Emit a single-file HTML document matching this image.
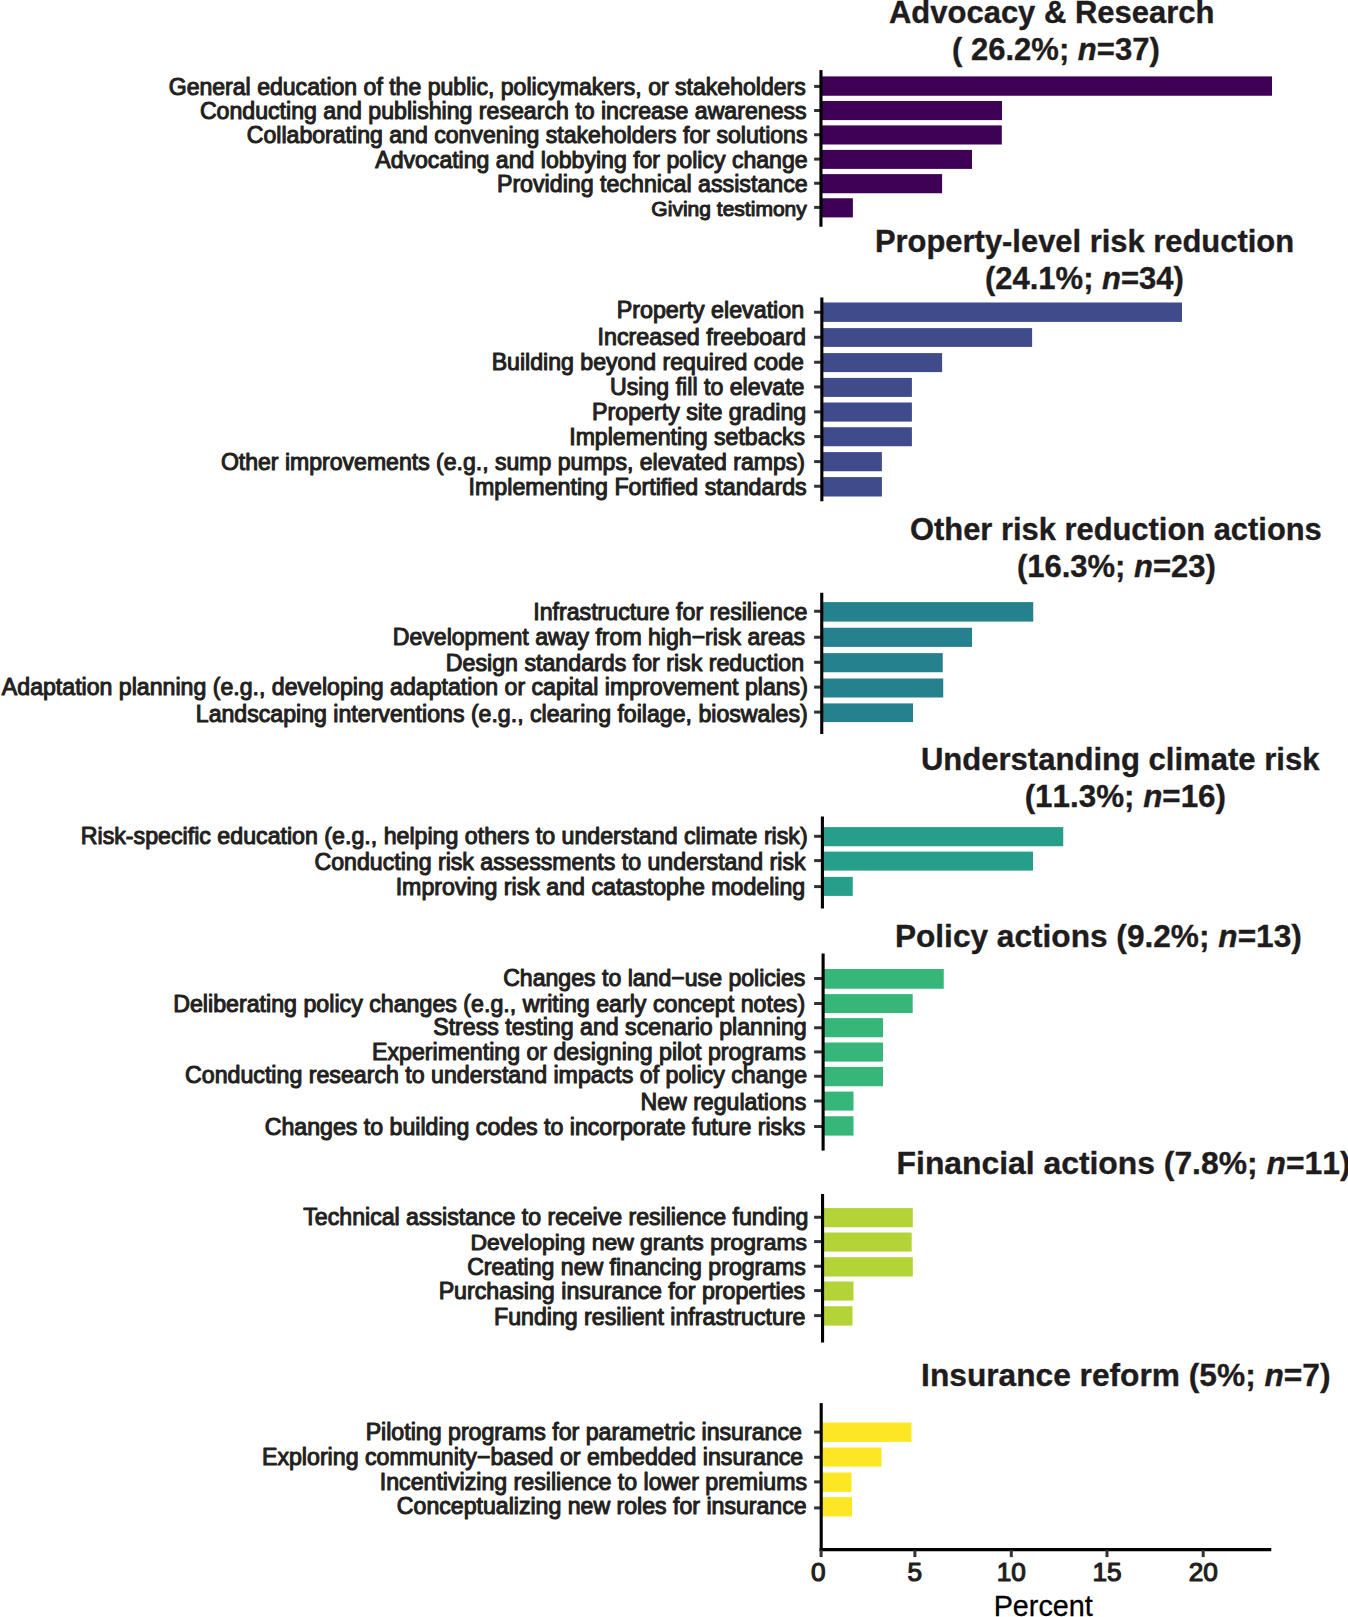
<!DOCTYPE html>
<html lang="en"><head><meta charset="utf-8"><title>Resilience actions by category</title>
<style>
html,body{margin:0;padding:0;background:#fff}
svg{display:block}
text{font-family:"Liberation Sans",Arial,Helvetica,sans-serif;fill:#231f20;white-space:pre}
.l{stroke:#231f20;stroke-width:1.05;stroke-linejoin:round}
.t{font-weight:bold;font-kerning:none;fill:#1f1c1d;stroke:#1f1c1d;stroke-width:0.35;stroke-linejoin:round}
.ax{stroke:#000;fill:none;stroke-width:3.1}
.tk{stroke:#333;fill:none;stroke-width:3}
</style></head><body>
<svg width="1348" height="1617" viewBox="0 0 1348 1617">
<rect width="1348" height="1617" fill="#fff"/>
<g fill="#3f0156">
<rect x="820.95" y="76.40" width="451.05" height="19.35"/>
<rect x="820.95" y="101.00" width="181.05" height="19.10"/>
<rect x="820.95" y="125.40" width="180.85" height="19.10"/>
<rect x="820.95" y="149.90" width="151.05" height="19.00"/>
<rect x="820.95" y="174.10" width="121.15" height="19.15"/>
<rect x="820.95" y="198.25" width="31.95" height="19.15"/>
</g>
<line class="tk" x1="814.1" x2="819.95" y1="86.40" y2="86.40"/>
<line class="tk" x1="814.1" x2="819.95" y1="110.50" y2="110.50"/>
<line class="tk" x1="814.1" x2="819.95" y1="134.75" y2="134.75"/>
<line class="tk" x1="814.1" x2="819.95" y1="159.10" y2="159.10"/>
<line class="tk" x1="814.1" x2="819.95" y1="183.25" y2="183.25"/>
<line class="tk" x1="814.1" x2="819.95" y1="207.40" y2="207.40"/>
<line class="ax" x1="820.95" x2="820.95" y1="70.10" y2="226.75"/>
<g fill="#3f4b8b">
<rect x="821.85" y="302.50" width="360.15" height="19.40"/>
<rect x="821.85" y="328.10" width="210.25" height="18.80"/>
<rect x="821.85" y="353.10" width="120.25" height="19.00"/>
<rect x="821.85" y="377.90" width="90.05" height="19.00"/>
<rect x="821.85" y="402.50" width="90.05" height="19.10"/>
<rect x="821.85" y="427.25" width="90.05" height="19.00"/>
<rect x="821.85" y="452.10" width="60.05" height="19.15"/>
<rect x="821.85" y="477.10" width="60.05" height="19.40"/>
</g>
<line class="tk" x1="814.1" x2="820.85" y1="312.25" y2="312.25"/>
<line class="tk" x1="814.1" x2="820.85" y1="337.25" y2="337.25"/>
<line class="tk" x1="814.1" x2="820.85" y1="362.25" y2="362.25"/>
<line class="tk" x1="814.1" x2="820.85" y1="386.90" y2="386.90"/>
<line class="tk" x1="814.1" x2="820.85" y1="411.90" y2="411.90"/>
<line class="tk" x1="814.1" x2="820.85" y1="436.60" y2="436.60"/>
<line class="tk" x1="814.1" x2="820.85" y1="461.60" y2="461.60"/>
<line class="tk" x1="814.1" x2="820.85" y1="486.25" y2="486.25"/>
<line class="ax" x1="821.85" x2="821.85" y1="297.50" y2="501.25"/>
<g fill="#26818f">
<rect x="821.75" y="602.10" width="211.50" height="19.50"/>
<rect x="821.75" y="627.75" width="150.25" height="19.15"/>
<rect x="821.75" y="653.10" width="121.00" height="19.15"/>
<rect x="821.75" y="678.50" width="121.50" height="19.00"/>
<rect x="821.75" y="703.40" width="91.25" height="18.70"/>
</g>
<line class="tk" x1="814.1" x2="820.75" y1="611.25" y2="611.25"/>
<line class="tk" x1="814.1" x2="820.75" y1="637.25" y2="637.25"/>
<line class="tk" x1="814.1" x2="820.75" y1="662.30" y2="662.30"/>
<line class="tk" x1="814.1" x2="820.75" y1="687.10" y2="687.10"/>
<line class="tk" x1="814.1" x2="820.75" y1="712.10" y2="712.10"/>
<line class="ax" x1="821.75" x2="821.75" y1="592.75" y2="734.00"/>
<g fill="#279e89">
<rect x="822.40" y="827.10" width="240.85" height="19.15"/>
<rect x="822.40" y="851.60" width="210.60" height="19.00"/>
<rect x="822.40" y="876.90" width="30.35" height="19.00"/>
</g>
<line class="tk" x1="814.1" x2="821.40" y1="836.30" y2="836.30"/>
<line class="tk" x1="814.1" x2="821.40" y1="860.60" y2="860.60"/>
<line class="tk" x1="814.1" x2="821.40" y1="886.60" y2="886.60"/>
<line class="ax" x1="822.40" x2="822.40" y1="816.50" y2="908.50"/>
<g fill="#36b779">
<rect x="823.10" y="969.00" width="120.65" height="19.75"/>
<rect x="823.10" y="994.10" width="89.60" height="19.00"/>
<rect x="823.10" y="1018.10" width="59.90" height="19.15"/>
<rect x="823.10" y="1042.50" width="59.90" height="19.10"/>
<rect x="823.10" y="1066.90" width="59.90" height="19.35"/>
<rect x="823.10" y="1091.60" width="30.40" height="19.00"/>
<rect x="823.10" y="1116.25" width="30.40" height="19.35"/>
</g>
<line class="tk" x1="814.1" x2="822.10" y1="978.50" y2="978.50"/>
<line class="tk" x1="814.1" x2="822.10" y1="1003.50" y2="1003.50"/>
<line class="tk" x1="814.1" x2="822.10" y1="1027.75" y2="1027.75"/>
<line class="tk" x1="814.1" x2="822.10" y1="1051.90" y2="1051.90"/>
<line class="tk" x1="814.1" x2="822.10" y1="1076.25" y2="1076.25"/>
<line class="tk" x1="814.1" x2="822.10" y1="1101.00" y2="1101.00"/>
<line class="tk" x1="814.1" x2="822.10" y1="1126.50" y2="1126.50"/>
<line class="ax" x1="823.10" x2="823.10" y1="953.50" y2="1150.60"/>
<g fill="#b3d337">
<rect x="822.55" y="1208.10" width="90.25" height="19.15"/>
<rect x="822.55" y="1232.50" width="89.15" height="19.10"/>
<rect x="822.55" y="1257.25" width="90.25" height="19.25"/>
<rect x="822.55" y="1281.50" width="30.95" height="19.10"/>
<rect x="822.55" y="1306.25" width="29.95" height="19.35"/>
</g>
<line class="tk" x1="814.1" x2="821.55" y1="1217.25" y2="1217.25"/>
<line class="tk" x1="814.1" x2="821.55" y1="1241.60" y2="1241.60"/>
<line class="tk" x1="814.1" x2="821.55" y1="1266.25" y2="1266.25"/>
<line class="tk" x1="814.1" x2="821.55" y1="1290.60" y2="1290.60"/>
<line class="tk" x1="814.1" x2="821.55" y1="1315.60" y2="1315.60"/>
<line class="ax" x1="822.55" x2="822.55" y1="1194.00" y2="1342.50"/>
<g fill="#fde725">
<rect x="821.20" y="1422.50" width="90.30" height="19.40"/>
<rect x="821.20" y="1447.50" width="60.30" height="19.10"/>
<rect x="821.20" y="1472.50" width="30.30" height="19.40"/>
<rect x="821.20" y="1497.10" width="30.80" height="19.40"/>
</g>
<line class="tk" x1="814.1" x2="820.20" y1="1432.10" y2="1432.10"/>
<line class="tk" x1="814.1" x2="820.20" y1="1457.25" y2="1457.25"/>
<line class="tk" x1="814.1" x2="820.20" y1="1481.90" y2="1481.90"/>
<line class="tk" x1="814.1" x2="820.20" y1="1507.90" y2="1507.90"/>
<line class="ax" x1="821.20" x2="821.20" y1="1403.10" y2="1551.10"/>
<line class="ax" x1="819.65" x2="1271.3" y1="1549.6" y2="1549.6" stroke-width="3"/>
<line class="tk" x1="821.1" x2="821.1" y1="1550" y2="1557.1" stroke-width="3"/>
<text class="l" x="818.4" y="1581.2" font-size="26.2" text-anchor="middle" style="stroke-width:1.2">0</text>
<line class="tk" x1="914.9" x2="914.9" y1="1550" y2="1557.1" stroke-width="3"/>
<text class="l" x="914.9" y="1581.2" font-size="26.2" text-anchor="middle" style="stroke-width:1.2">5</text>
<line class="tk" x1="1011.3" x2="1011.3" y1="1550" y2="1557.1" stroke-width="3"/>
<text class="l" x="1011.3" y="1581.2" font-size="26.2" text-anchor="middle" style="stroke-width:1.2">10</text>
<line class="tk" x1="1107.0" x2="1107.0" y1="1550" y2="1557.1" stroke-width="3"/>
<text class="l" x="1107.0" y="1581.2" font-size="26.2" text-anchor="middle" style="stroke-width:1.2">15</text>
<line class="tk" x1="1203.2" x2="1203.2" y1="1550" y2="1557.1" stroke-width="3"/>
<text class="l" x="1203.2" y="1581.2" font-size="26.2" text-anchor="middle" style="stroke-width:1.2">20</text>
<text class="l" x="1043.2" y="1615.9" font-size="28.75" text-anchor="middle" style="stroke-width:0.3;fill:#000;stroke:#000">Percent</text>
<text class="l" x="168.70" y="94.60" font-size="23.07">General education of the public, policymakers, or stakeholders</text>
<text class="l" x="199.88" y="118.80" font-size="23.14">Conducting and publishing research to increase awareness</text>
<text class="l" x="246.85" y="143.10" font-size="23.08">Collaborating and convening stakeholders for solutions</text>
<text class="l" x="375.24" y="167.50" font-size="23.09">Advocating and lobbying for policy change</text>
<text class="l" x="496.91" y="191.80" font-size="23.21">Providing technical assistance</text>
<text class="l" x="651.36" y="216.00" font-size="21.04">Giving testimony</text>
<text class="l" x="616.75" y="317.60" font-size="23.25">Property elevation</text>
<text class="l" x="597.55" y="344.90" font-size="23.29">Increased freeboard</text>
<text class="l" x="491.68" y="369.90" font-size="23.12">Building beyond required code</text>
<text class="l" x="609.98" y="394.60" font-size="23.18">Using fill to elevate</text>
<text class="l" x="592.05" y="419.90" font-size="23.23">Property site grading</text>
<text class="l" x="569.24" y="444.50" font-size="23.07">Implementing setbacks</text>
<text class="l" x="220.90" y="469.50" font-size="23.06">Other improvements (e.g., sump pumps, elevated ramps)</text>
<text class="l" x="468.55" y="494.60" font-size="23.22">Implementing Fortified standards</text>
<text class="l" x="533.26" y="619.60" font-size="23.16">Infrastructure for resilience</text>
<text class="l" x="392.78" y="645.10" font-size="23.09">Development away from high−risk areas</text>
<text class="l" x="445.82" y="670.60" font-size="23.19">Design standards for risk reduction</text>
<text class="l" x="1.85" y="695.10" font-size="23.13">Adaptation planning (e.g., developing adaptation or capital improvement plans)</text>
<text class="l" x="195.78" y="722.10" font-size="23.14">Landscaping interventions (e.g., clearing foilage, bioswales)</text>
<text class="l" x="80.79" y="844.20" font-size="23.20">Risk-specific education (e.g., helping others to understand climate risk)</text>
<text class="l" x="314.56" y="869.90" font-size="23.13">Conducting risk assessments to understand risk</text>
<text class="l" x="395.66" y="894.50" font-size="23.18">Improving risk and catastophe modeling</text>
<text class="l" x="503.21" y="985.65" font-size="23.08">Changes to land−use policies</text>
<text class="l" x="173.17" y="1012.15" font-size="23.21">Deliberating policy changes (e.g., writing early concept notes)</text>
<text class="l" x="433.21" y="1035.45" font-size="23.18">Stress testing and scenario planning</text>
<text class="l" x="372.02" y="1059.85" font-size="23.17">Experimenting or designing pilot programs</text>
<text class="l" x="185.07" y="1083.15" font-size="23.18">Conducting research to understand impacts of policy change</text>
<text class="l" x="640.50" y="1109.85" font-size="23.12">New regulations</text>
<text class="l" x="264.68" y="1134.85" font-size="23.16">Changes to building codes to incorporate future risks</text>
<text class="l" x="303.29" y="1225.35" font-size="23.14">Technical assistance to receive resilience funding</text>
<text class="l" x="470.50" y="1250.45" font-size="22.95">Developing new grants programs</text>
<text class="l" x="467.20" y="1274.65" font-size="23.09">Creating new financing programs</text>
<text class="l" x="438.63" y="1299.15" font-size="23.22">Purchasing insurance for properties</text>
<text class="l" x="494.01" y="1325.05" font-size="23.16">Funding resilient infrastructure</text>
<text class="l" x="365.63" y="1440.05" font-size="23.17">Piloting programs for parametric insurance</text>
<text class="l" x="261.97" y="1465.35" font-size="23.16">Exploring community−based or embedded insurance</text>
<text class="l" x="379.76" y="1490.05" font-size="23.17">Incentivizing resilience to lower premiums</text>
<text class="l" x="396.86" y="1514.45" font-size="23.12">Conceptualizing new roles for insurance</text>
<text class="t" x="888.96" y="22.80" font-size="30.99">Advocacy &amp; Research</text>
<text class="t" x="952.08" y="60.10" font-size="31.00">( 26.2%; <tspan font-style="italic">n</tspan>=37)</text>
<text class="t" x="874.97" y="252.30" font-size="30.91">Property-level risk reduction</text>
<text class="t" x="984.98" y="289.00" font-size="30.99">(24.1%; <tspan font-style="italic">n</tspan>=34)</text>
<text class="t" x="910.04" y="540.10" font-size="30.88">Other risk reduction actions</text>
<text class="t" x="1016.88" y="576.50" font-size="30.99">(16.3%; <tspan font-style="italic">n</tspan>=23)</text>
<text class="t" x="920.91" y="769.90" font-size="31.05">Understanding climate risk</text>
<text class="t" x="1024.66" y="806.50" font-size="31.37">(11.3%; <tspan font-style="italic">n</tspan>=16)</text>
<text class="t" x="894.92" y="946.60" font-size="31.63">Policy actions (9.2%; <tspan font-style="italic">n</tspan>=13)</text>
<text class="t" x="896.60" y="1173.50" font-size="31.85">Financial actions (7.8%; <tspan font-style="italic">n</tspan>=11)</text>
<text class="t" x="921.11" y="1386.30" font-size="31.70">Insurance reform (5%; <tspan font-style="italic">n</tspan>=7)</text>
</svg>
</body></html>
